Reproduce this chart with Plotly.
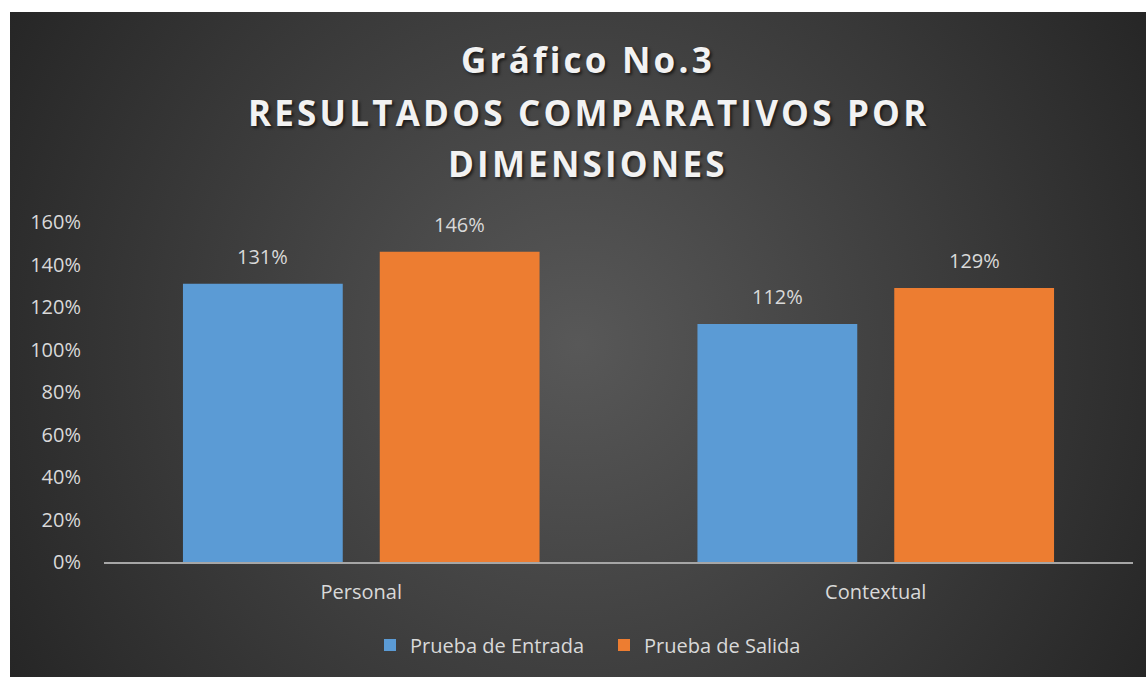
import base64
import plotly.graph_objects as go

# ---- data ----
categories = ["Personal", "Contextual"]
series_names = ["Prueba de Entrada", "Prueba de Salida"]
entrada = [1.31, 1.12]
salida = [1.46, 1.29]
series_colors = ["#5b9bd5", "#ed7d31"]
tick_vals = [0, 0.2, 0.4, 0.6, 0.8, 1.0, 1.2, 1.4, 1.6]
title_lines = ["Gráfico No.3", "RESULTADOS COMPARATIVOS POR", "DIMENSIONES"]

W, H = 1146, 677
ML, MR, MT, MB = 104, 13, 222, 115
PW = W - ML - MR
PH = H - MT - MB
BARGAP = 0.235
BARGROUPGAP = 0.188

FONT = "Open Sans"
TXT = "#d9d9d9"

# radial gradient background (dark panel)
panel_x0, panel_y0 = 10, 12
pw_, ph_ = W - panel_x0, H - panel_y0
svg = f'''<svg xmlns="http://www.w3.org/2000/svg" width="{pw_}" height="{ph_}" viewBox="0 0 {pw_} {ph_}">
<defs><radialGradient id="g" gradientUnits="userSpaceOnUse" cx="{pw_/2}" cy="{ph_/2}" r="{((pw_/2)**2+(ph_/2)**2)**0.5}">
<stop offset="0" stop-color="#585858"/><stop offset="1" stop-color="#262626"/></radialGradient></defs>
<rect width="{pw_}" height="{ph_}" fill="url(#g)"/></svg>'''
src = "data:image/svg+xml;base64," + base64.b64encode(svg.encode()).decode()

def px_to_paper_x(px):
    return (px - ML) / PW

def px_to_paper_y(py):
    return (H - MB - py) / PH

fig = go.Figure()
for name, vals, col in zip(series_names, [entrada, salida], series_colors):
    fig.add_trace(go.Bar(x=categories, y=vals, name=name, marker=dict(color=col, line=dict(width=0)),
                         hoverinfo="skip"))

# data labels
slot = PW / len(categories) * (1 - BARGAP) / len(series_names)
annotations = []
for i, vals in enumerate([entrada, salida]):
    shift = (i - (len(series_names) - 1) / 2) * slot
    for c, v in zip(categories, vals):
        annotations.append(dict(x=c, y=v, xref="x", yref="y", text=f"{v*100:.0f}%", showarrow=False,
                                xshift=shift, yshift=12, yanchor="bottom",
                                font=dict(family=FONT, size=20, color=TXT)))

# title lines
title_y_px = [60, 112, 163]
for line, ypx in zip(title_lines, title_y_px):
    annotations.append(dict(x=px_to_paper_x(588), y=px_to_paper_y(ypx), xref="paper", yref="paper",
                            text=f'<span style="letter-spacing:3.2px">{line}</span>', showarrow=False,
                            xanchor="center", yanchor="middle",
                            font=dict(family=FONT, size=35, color="#f2f2f2", weight="bold",
                                      shadow="2px 2px 3px rgba(0,0,0,0.6)")))

fig.update_layout(
    width=W, height=H,
    margin=dict(l=ML, r=MR, t=MT, b=MB),
    paper_bgcolor="white", plot_bgcolor="rgba(0,0,0,0)",
    barmode="group", bargap=BARGAP, bargroupgap=BARGROUPGAP,
    font=dict(family=FONT, size=20, color=TXT),
    showlegend=True,
    legend=dict(orientation="h", x=px_to_paper_x(370), xanchor="left", y=px_to_paper_y(645), yanchor="middle",
                font=dict(family=FONT, size=20, color=TXT), bgcolor="rgba(0,0,0,0)",
                itemwidth=30, entrywidth=189),
    annotations=annotations,
    images=[dict(source=src, xref="paper", yref="paper",
                 x=px_to_paper_x(panel_x0), y=px_to_paper_y(panel_y0),
                 sizex=pw_ / PW, sizey=ph_ / PH, xanchor="left", yanchor="top",
                 sizing="stretch", layer="below")],
    xaxis=dict(showgrid=False, showline=True, linecolor="#a6a6a6", linewidth=2, ticks="",
               tickfont=dict(family=FONT, size=20, color=TXT), ticklabelstandoff=11, zeroline=False),
    yaxis=dict(range=[0, 1.6], tickvals=tick_vals, tickformat=".0%", showgrid=False, showline=False,
               zeroline=False, ticks="", tickfont=dict(family=FONT, size=20, color=TXT),
               ticklabelstandoff=22),
)

fig.write_html("out.html", config={"displayModeBar": False},
               post_script="document.body.style.margin='0';document.body.style.overflow='hidden';")
